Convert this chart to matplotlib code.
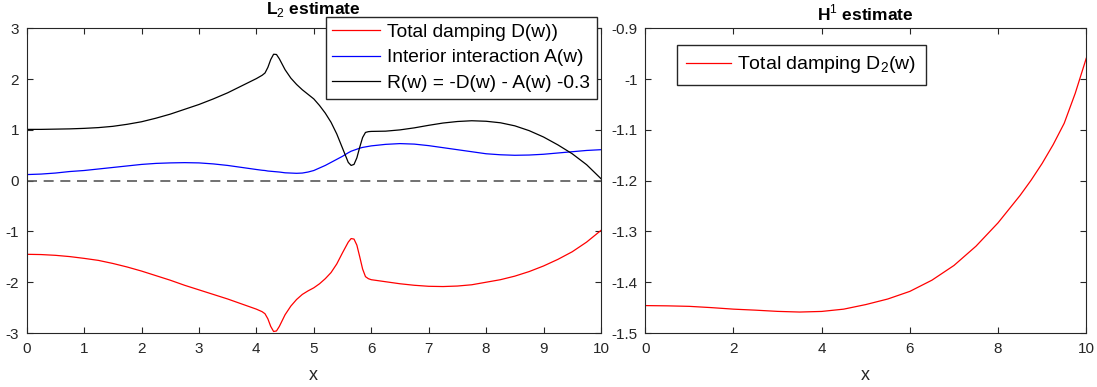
import numpy as np
import matplotlib
matplotlib.use("Agg")
import matplotlib.pyplot as plt

plt.rcParams['font.family'] = ['Liberation Sans', 'DejaVu Sans']
plt.rcParams['mathtext.fontset'] = 'custom'
plt.rcParams['mathtext.rm'] = 'Liberation Sans'
plt.rcParams['mathtext.bf'] = 'Liberation Sans:bold'
plt.rcParams['axes.unicode_minus'] = False

# L2 estimate (left panel)
x_l2 = [0, 0.25, 0.5, 0.75, 1, 1.25, 1.5, 1.75, 2, 2.25, 2.5, 2.75, 3, 3.25, 3.5, 3.75,
        4.0, 4.1, 4.15, 4.2, 4.25, 4.3, 4.35, 4.4, 4.5, 4.6, 4.7, 4.8, 4.9, 5.0, 5.1,
        5.2, 5.3, 5.4, 5.5, 5.6, 5.65, 5.7, 5.75, 5.8, 5.85, 5.9, 5.95, 6.0, 6.25,
        6.5, 6.75, 7.0, 7.25, 7.5, 7.75, 8.0, 8.25, 8.5, 8.75, 9.0, 9.25, 9.5, 9.75, 10]
damping = [-1.45, -1.455, -1.47, -1.495, -1.53, -1.57, -1.63, -1.70, -1.78, -1.87, -1.96,
           -2.06, -2.15, -2.24, -2.33, -2.43, -2.53, -2.58, -2.62, -2.72, -2.87, -2.97,
           -2.96, -2.87, -2.64, -2.47, -2.34, -2.24, -2.17, -2.11, -2.03, -1.93, -1.81,
           -1.64, -1.42, -1.21, -1.14, -1.15, -1.27, -1.50, -1.74, -1.89, -1.93, -1.95,
           -1.99, -2.03, -2.06, -2.08, -2.085, -2.075, -2.05, -2.0, -1.95, -1.88, -1.79,
           -1.68, -1.55, -1.40, -1.21, -0.98]
interior = [0.12, 0.13, 0.15, 0.18, 0.2, 0.23, 0.26, 0.29, 0.32, 0.34, 0.35, 0.355, 0.35,
            0.33, 0.30, 0.26, 0.22, 0.205, 0.20, 0.19, 0.185, 0.18, 0.175, 0.17, 0.155,
            0.15, 0.145, 0.15, 0.17, 0.2, 0.25, 0.30, 0.36, 0.42, 0.48, 0.55, 0.58, 0.60,
            0.62, 0.64, 0.655, 0.665, 0.675, 0.685, 0.715, 0.73, 0.72, 0.69, 0.65, 0.61,
            0.57, 0.53, 0.51, 0.50, 0.505, 0.52, 0.545, 0.57, 0.595, 0.61]
residual = [1.01, 1.01, 1.015, 1.02, 1.03, 1.045, 1.07, 1.11, 1.16, 1.23, 1.31, 1.405,
            1.50, 1.61, 1.73, 1.87, 2.01, 2.075, 2.12, 2.23, 2.385, 2.49, 2.485, 2.40,
            2.185, 2.02, 1.895, 1.79, 1.70, 1.61, 1.48, 1.33, 1.15, 0.92, 0.64, 0.36,
            0.30, 0.32, 0.45, 0.66, 0.85, 0.95, 0.965, 0.97, 0.975, 1.00, 1.04, 1.09,
            1.135, 1.165, 1.18, 1.17, 1.14, 1.08, 0.985, 0.86, 0.705, 0.53, 0.315, 0.04]

# H1 estimate (right panel)
x_h1 = [0, 0.5, 1, 1.5, 2, 2.5, 3, 3.5, 4, 4.5, 5, 5.5, 6, 6.5, 7, 7.5, 8, 8.5,
        8.75, 9, 9.25, 9.5, 9.75, 10]
damping2 = [-1.446, -1.4465, -1.4475, -1.450, -1.453, -1.455, -1.4574, -1.4587, -1.4575,
            -1.453, -1.444, -1.433, -1.418, -1.396, -1.367, -1.329, -1.283, -1.229,
            -1.199, -1.166, -1.129, -1.087, -1.028, -0.959]

ax_col = '0.15'
fig = plt.figure(figsize=(10.97, 3.87), dpi=100)
ax1 = fig.add_axes([0.0243, 0.1395, 0.5235, 0.7873])
ax2 = fig.add_axes([0.5882, 0.1395, 0.402, 0.7873])

ax1.plot(x_l2, damping, color='red', lw=0.9, label='Total damping D(w))')
ax1.plot(x_l2, interior, color='blue', lw=0.9, label='Interior interaction A(w)')
ax1.plot(x_l2, residual, color='black', lw=0.9, label='R(w) = -D(w) - A(w) -0.3')
ax1.axhline(0, color='0.35', ls='--', lw=1.2, dashes=(6, 4))
ax1.set_xlim(0, 10)
ax1.set_ylim(-3, 3)
ax1.set_xticks(range(0, 11))
ax1.set_yticks(range(-3, 4))
ax1.set_title('L$_2$ estimate', fontsize=12.5, fontweight='bold', pad=10)
ax1.legend(loc='upper right', bbox_to_anchor=(0.9925, 1.038), fontsize=13.8,
           frameon=True, fancybox=False, edgecolor=ax_col, handlelength=2.5,
           handletextpad=0.35, borderpad=0.35, labelspacing=0.42, borderaxespad=0,
           framealpha=1)

ax2.plot(x_h1, damping2, color='red', lw=0.9, label='Total damping D$_2$(w)')
ax2.set_xlim(0, 10)
ax2.set_ylim(-1.5, -0.9)
ax2.set_xticks(range(0, 11, 2))
yt = [-1.5, -1.4, -1.3, -1.2, -1.1, -1.0, -0.9]
ax2.set_yticks(yt)
ax2.set_yticklabels(['-1.5', '-1.4', '-1.3', '-1.2', '-1.1', '-1', '-0.9'])
ax2.set_title('H$^1$ estimate', fontsize=12.5, fontweight='bold', pad=6)
ax2.legend(loc='upper left', bbox_to_anchor=(0.072, 0.945), fontsize=14,
           frameon=True, fancybox=False, edgecolor=ax_col, handlelength=2.3,
           handletextpad=0.3, borderpad=0.48, borderaxespad=0, framealpha=1)

for ax in (ax1, ax2):
    ax.set_xlabel('x', fontsize=13, color=ax_col, labelpad=8)
    ax.tick_params(direction='in', top=True, right=True, labelsize=11,
                   colors=ax_col, length=4, width=0.8)
    ax.tick_params(axis='x', pad=6.5)
    ax.tick_params(axis='y', pad=5.5)
    for s in ax.spines.values():
        s.set_color(ax_col)
        s.set_linewidth(0.8)

fig.savefig('out.png', dpi=100)
